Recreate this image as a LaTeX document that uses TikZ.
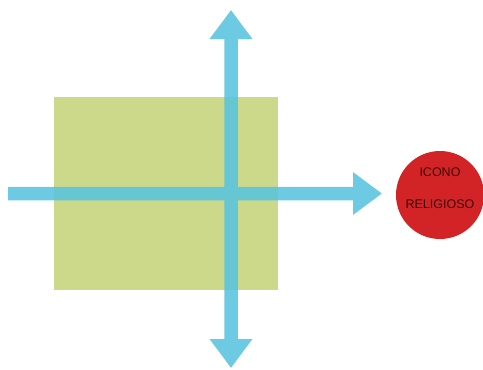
\documentclass[tikz,border=0pt]{standalone}
\usepackage{fontspec}
\setmainfont{Liberation Sans}
\usetikzlibrary{arrows.meta}
\definecolor{boxgreen}{RGB}{204,216,138}
\definecolor{arrowblue}{RGB}{88,196,222}
\definecolor{iconred}{RGB}{210,36,38}
\definecolor{textdark}{RGB}{60,10,10}
\tikzset{
  bigarrow/.style={draw=arrowblue, line width=13.5pt, -{Triangle[width=41pt,length=29pt]}},
  region/.style={fill=boxgreen, draw=none, inner sep=0pt},
  icon/.style={circle, fill=iconred, draw=none, minimum size=88pt, inner sep=0pt},
  label/.style={font=\fontsize{12.5}{14}\selectfont, text=textdark, inner sep=0pt}
}
\begin{document}
\begin{tikzpicture}[x=1pt,y=-1pt]
\useasboundingbox (0,0) rectangle (483,370);
\node[region, minimum width=224pt, minimum height=193pt, anchor=north west] (box) at (54,97) {};
\node[icon] (icon) at (440,195) {};
\node[label] (l1) at (440,172) {ICONO};
\node[label] (l2) at (440,204) {RELIGIOSO};
\coordinate (hstart) at (8,193.5);
\coordinate (hend) at (382,193.5);
\coordinate (vbot) at (231,368);
\coordinate (vtop) at (231,10);
\coordinate (vbotstart) at (231,193.5);
\begin{scope}[transparency group, opacity=0.88]
\draw[bigarrow] (hstart) -- (hend);
\draw[bigarrow] (vbotstart) -- (vtop);
\draw[bigarrow] (vbotstart) -- (vbot);
\end{scope}
\end{tikzpicture}
\end{document}
